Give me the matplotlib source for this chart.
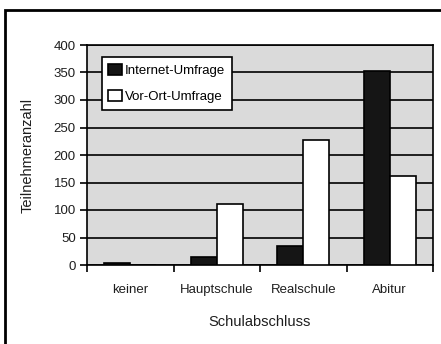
import matplotlib
matplotlib.use("Agg")
import matplotlib.pyplot as plt
import numpy as np
from matplotlib.patches import Rectangle

categories = ["keiner", "Hauptschule", "Realschule", "Abitur"]
internet = [4, 14, 35, 352]
vor_ort = [0, 111, 227, 161]
series_names = ["Internet-Umfrage", "Vor-Ort-Umfrage"]
y_ticks = [0, 50, 100, 150, 200, 250, 300, 350, 400]

plt.rcParams["font.family"] = ["Liberation Sans Narrow", "Liberation Sans", "DejaVu Sans"]
text_color = "#1e1e1e"

fig = plt.figure(figsize=(4.41, 3.44), dpi=100)
fig.patch.set_facecolor("white")

# outer chart frame
fig.add_artist(Rectangle((5 / 441, -0.01), 1.02, 1 - 10 / 344 + 0.01,
                         transform=fig.transFigure, fill=False,
                         edgecolor="black", linewidth=2))

ax = fig.add_axes([87 / 441, 1 - 265 / 344, (433 - 87) / 441, (265 - 45) / 344])
ax.set_facecolor("#dadada")

x = np.arange(len(categories))
w = 0.30
ax.bar(x - w / 2, internet, w, color="#151515", edgecolor="black", linewidth=1.2,
       label=series_names[0], zorder=3)
ax.bar(x + w / 2, vor_ort, w, color="white", edgecolor="black", linewidth=1.2,
       label=series_names[1], zorder=3)

ax.set_xlim(-0.5, len(categories) - 0.5)
ax.set_ylim(0, 400)
ax.set_yticks(y_ticks)
ax.set_yticklabels([str(v) for v in y_ticks], fontsize=9.5, color=text_color)
ax.grid(axis="y", color="black", linewidth=1.2, zorder=1)
ax.set_axisbelow(True)

ax.set_xticks(np.arange(len(categories) + 1) - 0.5)
ax.set_xticklabels([])
ax.set_xticks(x, minor=True)
ax.set_xticklabels(categories, minor=True, fontsize=9.5, color=text_color)
ax.tick_params(axis="x", which="minor", length=0, pad=14)
ax.tick_params(axis="x", which="major", length=5, width=1.2, direction="out")
ax.tick_params(axis="y", length=5, width=1.2, direction="out", pad=3)

for s in ax.spines.values():
    s.set_linewidth(1.2)
    s.set_color("black")

ax.set_ylabel("Teilnehmeranzahl", fontsize=10.5, color=text_color, labelpad=14)
ax.set_xlabel("Schulabschluss", fontsize=10.5, color=text_color, labelpad=13)

leg = ax.legend(loc="upper left", bbox_to_anchor=(0.043, 0.945), fontsize=9.5,
                frameon=True, fancybox=False, edgecolor="black",
                handlelength=1.0, handleheight=0.9, handletextpad=0.25,
                borderpad=0.5, labelspacing=1.0, borderaxespad=0)
leg.get_frame().set_linewidth(1.2)
leg.get_frame().set_facecolor("white")
leg.get_frame().set_alpha(1)

fig.savefig("out.png", dpi=100)
